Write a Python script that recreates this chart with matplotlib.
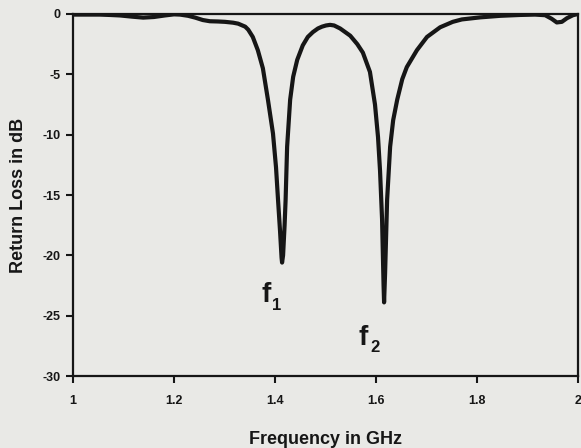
import matplotlib
matplotlib.use("Agg")
import matplotlib.pyplot as plt

# Data (frequency in GHz, return loss in dB)
freq = [1.000, 1.030, 1.053, 1.073, 1.093, 1.117, 1.139, 1.160, 1.182, 1.200,
        1.212, 1.228, 1.242, 1.257, 1.271, 1.287, 1.301, 1.317, 1.327, 1.341,
        1.347, 1.356, 1.366, 1.376, 1.386, 1.396, 1.402, 1.406, 1.410, 1.413,
        1.414, 1.416, 1.419, 1.421, 1.424, 1.430, 1.436, 1.444, 1.455, 1.465,
        1.475, 1.485, 1.493, 1.501, 1.509, 1.517, 1.529, 1.549, 1.563, 1.574,
        1.588, 1.598, 1.604, 1.608, 1.612, 1.615, 1.616, 1.618, 1.622, 1.628,
        1.634, 1.642, 1.652, 1.661, 1.681, 1.701, 1.727, 1.752, 1.770, 1.806,
        1.846, 1.885, 1.915, 1.935, 1.948, 1.958, 1.968, 1.978, 1.990, 2.000]
return_loss = [-0.05, -0.05, -0.05, -0.08, -0.12, -0.22, -0.3, -0.25, -0.12, -0.03,
               -0.05, -0.15, -0.3, -0.5, -0.6, -0.62, -0.65, -0.72, -0.8, -1.05,
               -1.3, -1.9, -3.0, -4.5, -7.1, -9.9, -12.7, -15.4, -18.0, -20.2,
               -20.6, -20.0, -17.5, -15.4, -11.0, -7.1, -5.2, -3.8, -2.6, -1.9,
               -1.5, -1.2, -1.05, -0.95, -0.9, -0.95, -1.2, -1.8, -2.5, -3.2,
               -4.8, -7.5, -10.2, -13.0, -17.0, -22.5, -23.9, -21.5, -15.4, -11.0,
               -8.8, -7.1, -5.4, -4.4, -3.0, -1.9, -1.1, -0.65, -0.45, -0.28,
               -0.15, -0.08, -0.05, -0.1, -0.4, -0.7, -0.65, -0.35, -0.1, 0.0]

x_ticks = [1, 1.2, 1.4, 1.6, 1.8, 2]
x_tick_labels = ["1", "1.2", "1.4", "1.6", "1.8", "2"]
y_ticks = [0, -5, -10, -15, -20, -25, -30]
y_tick_labels = ["0", "-5", "-10", "-15", "-20", "-25", "-30"]

markers = [("f", "1", 1.3832, -23.87, 1.4030, -24.53),
           ("f", "2", 1.5743, -27.43, 1.5980, -28.01)]

plt.rcParams['font.family'] = ['Liberation Sans', 'DejaVu Sans']

ink = '#161616'
bg = '#e9e9e6'
fig = plt.figure(figsize=(5.81, 4.48), dpi=100, facecolor=bg)
ax = fig.add_axes([73/581, (448-376)/448, (578-73)/581, (376-14)/448])
ax.set_facecolor(bg)

ax.plot(freq, return_loss, color=ink, lw=3.0, solid_joinstyle='round',
        solid_capstyle='round')

ax.set_xlim(1, 2)
ax.set_ylim(-30, 0)
ax.set_xticks(x_ticks)
ax.set_xticklabels(x_tick_labels, fontsize=9, fontweight='bold')
ax.set_yticks(y_ticks)
ax.set_yticklabels(y_tick_labels, fontsize=9, fontweight='bold')
ax.tick_params(axis='both', direction='out', length=5, width=1.5, color=ink,
               labelcolor=ink)
ax.tick_params(axis='y', pad=4)
ax.tick_params(axis='x', pad=9)

for s in ax.spines.values():
    s.set_linewidth(1.6)
    s.set_color(ink)

ax.set_xlabel("Frequency in GHz", fontsize=13, fontweight='bold',
              color=ink, labelpad=17)
ax.set_ylabel("Return Loss in dB", fontsize=13, fontweight='bold',
              color=ink, labelpad=11)

for main, sub, xf, yf, xs, ys in markers:
    ax.text(xf, yf, main, fontsize=20, fontweight='bold', color=ink,
            ha='center', va='baseline')
    ax.text(xs, ys, sub, fontsize=12, fontweight='bold', color=ink,
            ha='center', va='baseline')

fig.savefig("out.png", dpi=100, facecolor=bg)
